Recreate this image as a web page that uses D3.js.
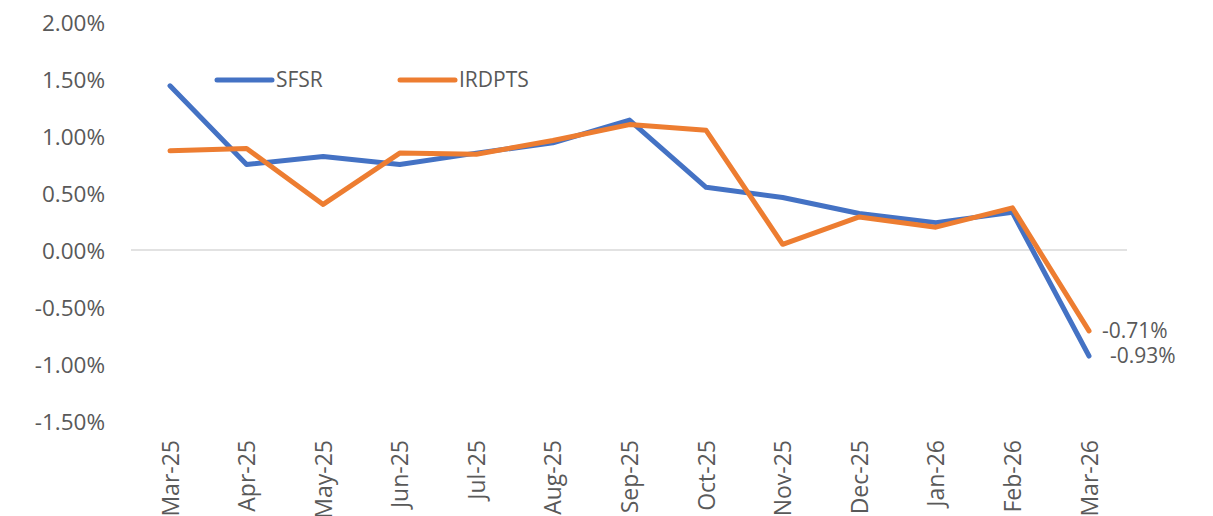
<!DOCTYPE html>
<html>
<head>
<meta charset="utf-8">
<script src="https://cdn.jsdelivr.net/npm/d3@7"></script>
<style>
  html, body { margin: 0; padding: 0; background: #fff; }
  svg { display: block; }
  text { font-family: "Open Sans", sans-serif; fill: #595959; }
</style>
</head>
<body>
<svg id="chart" width="1213" height="516"></svg>
<script>
const categories = ["Mar-25","Apr-25","May-25","Jun-25","Jul-25","Aug-25","Sep-25","Oct-25","Nov-25","Dec-25","Jan-26","Feb-26","Mar-26"];
const sfsr   = [1.44, 0.75, 0.82, 0.75, 0.85, 0.94, 1.14, 0.55, 0.46, 0.32, 0.24, 0.33, -0.93];
const irdpts = [0.87, 0.89, 0.40, 0.85, 0.84, 0.96, 1.10, 1.05, 0.05, 0.29, 0.20, 0.37, -0.71];
const yTicks = [2.0, 1.5, 1.0, 0.5, 0.0, -0.5, -1.0, -1.5];
const seriesNames = ["SFSR", "IRDPTS"];
const colors = ["#4472C4", "#ED7D31"];

const svg = d3.select("#chart");
const x = d3.scalePoint().domain(categories).range([170, 1089]);
const y = d3.scaleLinear().domain([-1.5, 2.0]).range([421, 22]);

// zero gridline
svg.append("line")
  .attr("x1", 131).attr("x2", 1127)
  .attr("y1", y(0)).attr("y2", y(0))
  .attr("stroke", "#d9d9d9").attr("stroke-width", 1.5);

// y axis labels
const yAxis = d3.axisLeft(y).tickValues(yTicks).tickSize(0).tickPadding(0)
  .tickFormat(d => d.toFixed(2) + "%");
const gy = svg.append("g").attr("transform", "translate(105,0)").call(yAxis);
gy.select(".domain").remove();
gy.selectAll("text").attr("font-family", "Open Sans").attr("font-size", 22.5).attr("fill", "#595959").attr("dy", "0.36em");

// x axis labels
const xAxis = d3.axisBottom(x).tickSize(0).tickPadding(0);
const gx = svg.append("g").attr("transform", "translate(0,440)").call(xAxis);
gx.select(".domain").remove();
gx.selectAll("text")
  .attr("font-family", "Open Sans").attr("font-size", 23).attr("fill", "#595959")
  .attr("transform", "rotate(-90)")
  .attr("text-anchor", "end")
  .attr("x", 0).attr("y", 0).attr("dy", "0.35em");

// lines
const line = d3.line().x((d, i) => x(categories[i])).y(d => y(d));
[sfsr, irdpts].forEach((s, k) => {
  svg.append("path").datum(s)
    .attr("d", line)
    .attr("fill", "none")
    .attr("stroke", colors[k])
    .attr("stroke-width", 5)
    .attr("stroke-linejoin", "round")
    .attr("stroke-linecap", "round");
});

// data labels at last point
const last = categories.length - 1;
svg.append("text").attr("x", x(categories[last]) + 13).attr("y", y(irdpts[last]))
  .attr("dy", "0.35em").attr("font-size", 21).text(irdpts[last].toFixed(2) + "%");
svg.append("text").attr("x", x(categories[last]) + 21).attr("y", y(sfsr[last]))
  .attr("dy", "0.35em").attr("font-size", 21).text(sfsr[last].toFixed(2) + "%");

// legend
const legX = [217, 400];
seriesNames.forEach((n, k) => {
  svg.append("line").attr("x1", legX[k]).attr("x2", legX[k] + 55)
    .attr("y1", 80).attr("y2", 80)
    .attr("stroke", colors[k]).attr("stroke-width", 5).attr("stroke-linecap", "round");
  svg.append("text").attr("x", legX[k] + 59).attr("y", 80).attr("dy", "0.35em")
    .attr("font-size", 21).text(n);
});
</script>
</body>
</html>
